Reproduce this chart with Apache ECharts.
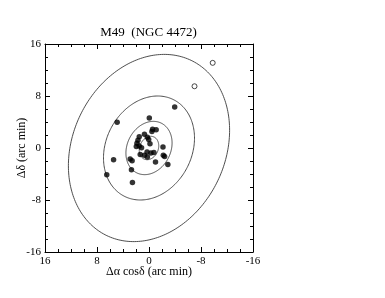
<!DOCTYPE html>
<html><head><meta charset="utf-8">
<script src="https://cdn.jsdelivr.net/npm/echarts@6/dist/echarts.min.js"></script>
<style>html,body{margin:0;padding:0;background:#fff}#c{width:385px;height:298px}</style>
</head><body><div id="c"></div>
<script>
const titleText = 'M49  (NGC 4472)';
const xName = 'Δα cosδ (arc min)';
const yName = 'Δδ (arc min)';
const axisMin = -16, axisMax = 16, axisStep = 8;

// filled points: Δα cosδ, Δδ (arc min)
const gcX = [-3.95, 4.9, -0.05, -0.55, -1.1, -0.45, 1.5, 0.7, 0.25, 0.05, -0.15, 1.85, 1.95, 1.15, -2.15, 1.35, 0.7, 0.3, 0.25, -0.3, -0.75, -1.0, -2.2, -2.4, -2.9, 5.45, 2.9, 2.6, 2.7, 6.5, 2.55, 1.7, 1.5];
const gcY = [6.3, 3.95, 4.6, 2.9, 2.8, 2.55, 1.75, 2.1, 1.65, 1.3, 0.65, 0.75, 0.25, 0.05, 0.15, -1.0, -1.1, -0.6, -1.4, -0.75, -0.7, -2.15, -1.1, -1.3, -2.55, -1.8, -1.7, -1.95, -3.35, -4.1, -5.3, 1.2, 0.3];
// open points
const openX = [-9.8, -7.0];
const openY = [13.1, 9.5];
// contour ellipses: half-extent in x, half-extent in y, x-y coupling
const contourXExtent = [1.5, 3.55, 7.0, 12.4];
const contourYExtent = [1.8, 4.1, 8.0, 14.4];
const contourCoupling = [-0.19, -0.19, -0.19, -0.19];

const chart = echarts.init(document.getElementById('c'));
const serif = 'Liberation Serif';
const lbl = {fontFamily: serif, fontSize: 11, color: '#000'};

function axis(extra) {
  return Object.assign({
    type: 'value', min: axisMin, max: axisMax, interval: axisStep,
    axisLine: {show: true, onZero: false, lineStyle: {color: '#000', width: 1}},
    axisTick: {show: true, inside: true, length: 5, lineStyle: {color: '#000'}},
    minorTick: {show: true, splitNumber: 4, length: 3, lineStyle: {color: '#000'}},
    splitLine: {show: false}, minorSplitLine: {show: false}
  }, extra);
}

chart.setOption({
  animation: false,
  backgroundColor: '#fff',
  grid: {left: 45, top: 44, width: 208, height: 208},
  graphic: [{type: 'text', x: 148.5, y: 33, style: {text: titleText, fontFamily: serif, fontSize: 13, fill: '#000', align: 'center', verticalAlign: 'middle'}}],
  xAxis: [
    axis({position: 'bottom', inverse: true, name: xName, nameLocation: 'middle', nameGap: 14, nameMoveOverlap: false,
      nameTextStyle: {fontFamily: serif, fontSize: 12, color: '#000'},
      axisLabel: Object.assign({margin: 4}, lbl)}),
    axis({position: 'top', inverse: true, axisLabel: {show: false}})
  ],
  yAxis: [
    axis({position: 'left', name: yName, nameLocation: 'middle', nameGap: 17, nameMoveOverlap: false,
      nameTextStyle: {fontFamily: serif, fontSize: 12, color: '#000'},
      axisLabel: Object.assign({margin: 4}, lbl)}),
    axis({position: 'right', axisLabel: {show: false}})
  ],
  series: [
    {
      type: 'custom', silent: true, clip: false,
      data: contourXExtent.map((v, i) => [v, contourYExtent[i], contourCoupling[i]]),
      renderItem: function (params, api) {
        const X = api.value(0), Y = api.value(1), c = api.value(2);
        const s = Math.sqrt(1 - c * c);
        const pts = [];
        for (let i = 0; i <= 240; i++) {
          const t = i / 240 * 2 * Math.PI;
          pts.push(api.coord([X * Math.cos(t), Y * (Math.cos(t) * c + Math.sin(t) * s)]));
        }
        return {type: 'polyline', shape: {points: pts}, style: {fill: null, stroke: '#3a3a3a', lineWidth: 0.9}};
      }
    },
    {
      type: 'scatter', symbol: 'circle', symbolSize: 5.5,
      itemStyle: {color: '#000'},
      data: gcX.map((v, i) => [v, gcY[i]])
    },
    {
      type: 'scatter', symbol: 'circle', symbolSize: 5,
      itemStyle: {color: '#fff', borderColor: '#000', borderWidth: 0.9},
      data: openX.map((v, i) => [v, openY[i]])
    }
  ]
});
</script>
</body></html>
